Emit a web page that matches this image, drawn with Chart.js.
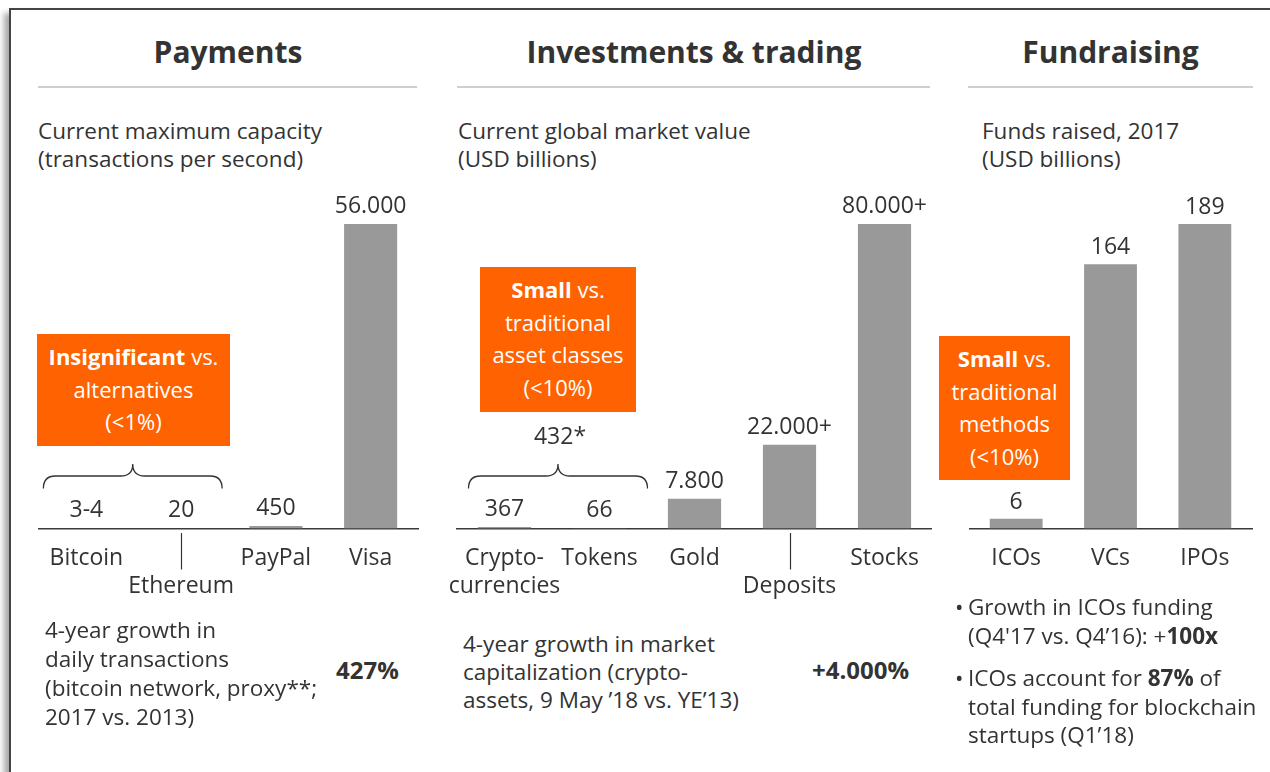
<!DOCTYPE html>
<html><head><meta charset="utf-8">
<script src="https://cdn.jsdelivr.net/npm/chart.js@4/dist/chart.umd.min.js"></script>
<style>
html,body{margin:0;padding:0;background:#fff;}
body{width:1270px;height:772px;position:relative;overflow:hidden;font-family:"Open Sans",sans-serif;color:#333;}
.frame{position:absolute;left:9px;top:8px;width:1300px;height:900px;border-left:2px solid #444;border-top:2px solid #444;box-shadow:-5px 5px 6px rgba(0,0,0,0.35);background:#fff;}
.t{position:absolute;white-space:nowrap;}
.title{font-size:30px;font-weight:700;line-height:34px;text-align:center;top:34.5px;}
.rule{position:absolute;height:2px;background:#cfcfcf;top:86px;}
.sub{font-size:22.5px;line-height:28px;top:117px;}
.box{position:absolute;background:#FF6200;color:#fff;font-size:22px;line-height:32.5px;text-align:center;padding-top:6px;box-sizing:border-box;}
.note{font-size:22.5px;line-height:29px;}
.big{font-size:24px;font-weight:700;line-height:30px;}
.bul{position:absolute;left:-13px;}
canvas{position:absolute;}
</style>
</head>
<body>
<div class="frame"></div>

<div class="t title" style="left:38px;width:380px;">Payments</div>
<div class="rule" style="left:38px;width:379px;"></div>
<div class="t sub" style="left:38px;">Current maximum capacity<br>(transactions per second)</div>

<div class="t title" style="left:457px;width:474px;">Investments &amp; trading</div>
<div class="rule" style="left:457px;width:473px;"></div>
<div class="t sub" style="left:458px;">Current global market value<br>(USD billions)</div>

<div class="t title" style="left:968px;width:285px;">Fundraising</div>
<div class="rule" style="left:968px;width:285px;"></div>
<div class="t sub" style="left:982px;">Funds raised, 2017<br>(USD billions)</div>

<canvas id="c1" width="399" height="440" style="left:29px;top:180px;width:399px;height:440px;"></canvas>
<canvas id="c2" width="495" height="440" style="left:437px;top:180px;width:495px;height:440px;"></canvas>
<canvas id="c3" width="293" height="440" style="left:969px;top:180px;width:293px;height:440px;"></canvas>

<div class="box" style="left:37px;top:334px;width:193px;height:112px;"><b>Insignificant</b> vs.<br>alternatives<br>(&lt;1%)</div>
<div class="box" style="left:480px;top:267px;width:156px;height:145px;"><b>Small</b> vs.<br>traditional<br>asset classes<br>(&lt;10%)</div>
<div class="box" style="left:939px;top:336px;width:131px;height:144px;"><b>Small</b> vs.<br>traditional<br>methods<br>(&lt;10%)</div>

<div class="t note" style="left:45px;top:614.75px;">4-year growth in<br>daily transactions<br>(bitcoin network, proxy**;<br>2017 vs. 2013)</div>
<div class="t big" style="left:336px;top:654.7px;">427%</div>

<div class="t note" style="left:463px;top:630px;line-height:28px;">4-year growth in market<br>capitalization (crypto-<br>assets, 9 May ’18 vs. YE’13)</div>
<div class="t big" style="left:812px;top:654.7px;">+4.000%</div>

<div class="t note" style="left:968px;top:591.75px;"><span class="bul">•</span>Growth in ICOs funding<br>(Q4'17 vs. Q4’16): +<b>100x</b></div>
<div class="t note" style="left:968px;top:664px;line-height:28.5px;"><span class="bul">•</span>ICOs account for <b>87%</b> of<br>total funding for blockchain<br>startups (Q1’18)</div>

<script>
// ---- data ----
const paymentsCategories = [["Bitcoin"], ["", "Ethereum"], ["PayPal"], ["Visa"]];
const paymentsValues = [3.5, 20, 450, 56000];
const paymentsValueLabels = ["3-4", "20", "450", "56.000"];

const investCategories = [["Crypto-", "currencies"], ["Tokens"], ["Gold"], ["", "Deposits"], ["Stocks"]];
const investValues = [367, 66, 7800, 22000, 80000];
const investValueLabels = ["367", "66", "7.800", "22.000+", "80.000+"];
const investBraceLabel = "432*";

const fundCategories = [["ICOs"], ["VCs"], ["IPOs"]];
const fundValues = [6, 164, 189];
const fundValueLabels = ["6", "164", "189"];

// ---- drawing ----
const FONT = '"Open Sans", sans-serif';
const TXT = '#333333';

const labelPlugin = {
  id: 'labels',
  afterDatasetsDraw(chart, args, o) {
    const ctx = chart.ctx;
    const meta = chart.getDatasetMeta(0);
    const base = chart.chartArea.bottom;
    ctx.save();
    ctx.fillStyle = TXT;
    ctx.strokeStyle = TXT;
    ctx.textAlign = 'center';
    ctx.textBaseline = 'alphabetic';
    ctx.font = '23px ' + FONT;
    meta.data.forEach((bar, i) => {
      ctx.fillText(o.valueLabels[i], bar.x, bar.y - o.gap);
    });
    chart.data.labels.forEach((lines, i) => {
      const x = meta.data[i].x;
      lines.forEach((ln, r) => { if (ln) ctx.fillText(ln, x, base + 36.5 + r * 28); });
      if (lines[0] === '') {
        ctx.lineWidth = 1.2;
        ctx.beginPath();
        ctx.moveTo(Math.round(x) + 0.5, base + 4.5);
        ctx.lineTo(Math.round(x) + 0.5, base + 41);
        ctx.stroke();
      }
    });
    if (o.brace) {
      const b = o.brace;
      const x0 = meta.data[b.from].x + b.left;
      const x1 = meta.data[b.to].x + b.right;
      const xm = (x0 + x1) / 2;
      const yT = base - 64.5, yH = base - 52.5, yE = base - 40;
      const r = 12;
      ctx.lineWidth = 1.3;
      ctx.beginPath();
      ctx.moveTo(x0, yE);
      ctx.quadraticCurveTo(x0, yH, x0 + r, yH);
      ctx.lineTo(xm - r, yH);
      ctx.quadraticCurveTo(xm, yH, xm, yT);
      ctx.quadraticCurveTo(xm, yH, xm + r, yH);
      ctx.lineTo(x1 - r, yH);
      ctx.quadraticCurveTo(x1, yH, x1, yE);
      ctx.stroke();
      if (b.label) ctx.fillText(b.label, xm + 2, yT - 20);
    }
    ctx.restore();
  }
};

function makeChart(id, cats, vals, opts, padL, padR) {
  return new Chart(document.getElementById(id), {
    type: 'bar',
    data: {
      labels: cats,
      datasets: [{ data: vals, backgroundColor: '#999999', borderWidth: 0,
                   barPercentage: 0.56, categoryPercentage: 1 }]
    },
    options: {
      responsive: false, animation: false, devicePixelRatio: 1,
      layout: { padding: { top: 44, bottom: 91.5, left: padL, right: padR } },
      plugins: { legend: { display: false }, tooltip: { enabled: false }, labels: opts },
      scales: {
        x: { display: true, offset: true,
             grid: { display: false, drawTicks: false },
             ticks: { display: false },
             border: { display: true, color: '#3a3a3a', width: 1.5 } },
        y: { display: false, min: 0, max: Math.max(...vals) }
      }
    },
    plugins: [labelPlugin]
  });
}

makeChart('c1', paymentsCategories, paymentsValues,
  { valueLabels: paymentsValueLabels, gap: 11, brace: { from: 0, to: 1, left: -43, right: 41, label: '' } }, 10, 10);
makeChart('c2', investCategories, investValues,
  { valueLabels: investValueLabels, gap: 11, brace: { from: 0, to: 1, left: -36, right: 48, label: investBraceLabel } }, 20, 0);
makeChart('c3', fundCategories, fundValues,
  { valueLabels: fundValueLabels, gap: 10 }, 0, 10);
</script>
</body></html>
